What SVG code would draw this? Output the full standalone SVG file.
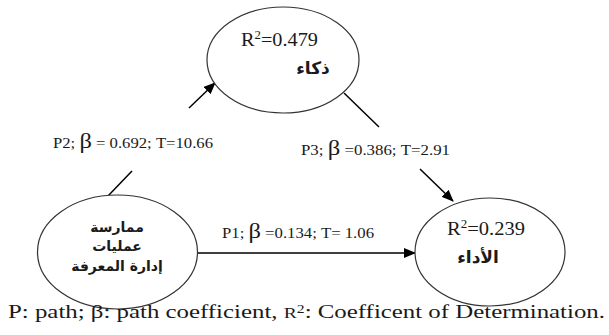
<svg xmlns="http://www.w3.org/2000/svg" width="609" height="335" viewBox="0 0 609 335">
<style>
.node ellipse{fill:#fff;stroke:#333;stroke-width:1.2}
.lat{font-family:"Liberation Serif","Times New Roman",serif;fill:#1a1a1a}
.ar{font-family:"DejaVu Sans",sans-serif;font-weight:bold;fill:#1a1a1a;text-anchor:middle}
.conn line{stroke:#000;stroke-width:1.5}
</style>
<defs>
<marker id="ah" markerWidth="12" markerHeight="10" refX="11" refY="5" orient="auto" markerUnits="userSpaceOnUse">
<path d="M0,0 L12,5 L0,10 Z" fill="#000"/>
</marker>
</defs>
<rect width="609" height="335" fill="#fff"/>
<g id="connectors" class="conn">
<line x1="107" y1="197" x2="132" y2="171"/>
<line x1="189" y1="108" x2="215" y2="83" marker-end="url(#ah)"/>
<line x1="344" y1="93" x2="379" y2="127"/>
<line x1="420" y1="169" x2="453" y2="201" marker-end="url(#ah)"/>
<line x1="197" y1="253" x2="415" y2="253" marker-end="url(#ah)"/>
</g>
<g id="node-dhakaa" class="node">
<ellipse cx="283" cy="60" rx="76" ry="53"/>
<text class="lat" x="241" y="46" font-size="19" textLength="77" lengthAdjust="spacingAndGlyphs">R<tspan font-size="12" dy="-7">2</tspan><tspan dy="7">=0.479</tspan></text>
<text class="ar" x="313" y="74" font-size="17">ذكاء</text>
</g>
<g id="node-km" class="node">
<ellipse cx="117.5" cy="252" rx="80" ry="57"/>
<text class="ar" x="117" y="232" font-size="14">ممارسة</text>
<text class="ar" x="117" y="251" font-size="14">عمليات</text>
<text class="ar" x="117" y="271" font-size="14">إدارة المعرفة</text>
</g>
<g id="node-adaa" class="node">
<ellipse cx="490" cy="252" rx="75" ry="54"/>
<text class="lat" x="447" y="235" font-size="19" textLength="78" lengthAdjust="spacingAndGlyphs">R<tspan font-size="12" dy="-7">2</tspan><tspan dy="7">=0.239</tspan></text>
<text class="ar" x="478" y="263" font-size="17">الأداء</text>
</g>
<g id="labels">
<text class="lat" x="53" y="148" font-size="15" textLength="160" lengthAdjust="spacingAndGlyphs">P2; <tspan font-size="22">β</tspan> = 0.692; T=10.66</text>
<text class="lat" x="301" y="155" font-size="15" textLength="149" lengthAdjust="spacingAndGlyphs">P3; <tspan font-size="22">β</tspan> =0.386; T=2.91</text>
<text class="lat" x="222" y="238" font-size="15" textLength="152" lengthAdjust="spacingAndGlyphs">P1; <tspan font-size="22">β</tspan> =0.134; T= 1.06</text>
<text class="lat" x="8" y="318" font-size="19" textLength="597" lengthAdjust="spacingAndGlyphs">P: path; β: path coefficient, <tspan font-size="15">R</tspan><tspan font-size="12" dy="-5">2</tspan><tspan dy="5">: Coefficent of Determination.</tspan></text>
</g>
</svg>
